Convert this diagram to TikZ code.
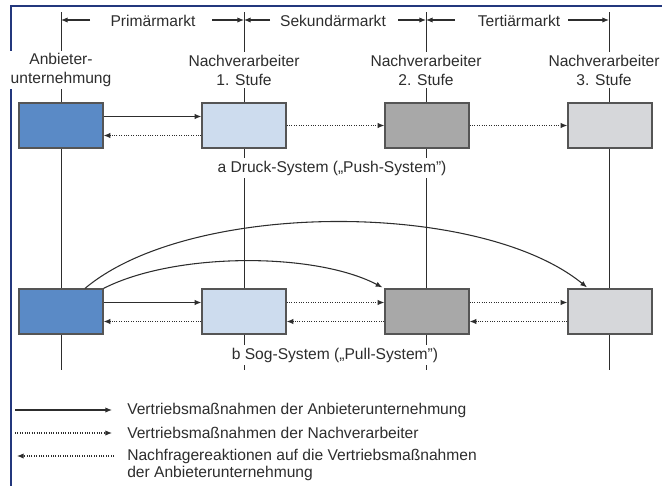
\documentclass[tikz,border=0pt]{standalone}
\usepackage{fontspec}
\setmainfont{Liberation Sans}
\usetikzlibrary{arrows.meta,calc}
\definecolor{frameblue}{RGB}{35,55,125}
\definecolor{cA}{RGB}{90,138,198}
\definecolor{cB}{RGB}{205,220,238}
\definecolor{cC}{RGB}{168,168,168}
\definecolor{cD}{RGB}{214,215,218}
\definecolor{edge}{RGB}{85,85,85}
\definecolor{ink}{RGB}{45,45,45}
\begin{document}
\begin{tikzpicture}[x=0.75pt,y=-0.75pt,
  font=\fontsize{11.7}{14.2}\selectfont, text=ink,
  vline/.style={draw=ink, line width=0.7pt},
  lbl/.style={fill=white, align=center, inner xsep=1pt, inner ysep=2pt},
  hdr/.style={inner sep=1pt},
  stagebox/.style={draw=edge, line width=0.9pt, minimum width=63pt, minimum height=33.75pt, inner sep=0pt},
  arrtip/.style={-{Latex[length=5pt,width=4pt]}},
  sol/.style={arrtip, draw=ink, line width=0.8pt},
  dotarr/.style={arrtip, draw=ink, line width=0.8pt, densely dotted},
  captext/.style={fill=white, inner sep=2pt},
  legtext/.style={anchor=west, inner sep=0pt, align=left, font=\fontsize{11.7}{12.75}\selectfont}]
\clip (0,0) rectangle (662,486);
% frame
\draw[frameblue, line width=1.6pt] (11,486) -- (11,6) -- (662,6);
% column lines
\foreach \n/\x in {1/61,2/244,3/426,4/609}{
  \coordinate (top\n) at (\x,12);
  \coordinate (bot\n) at (\x,370);
  \coordinate (hk\n) at (\x,20);
  \draw[vline] (top\n) -- (bot\n);
}
% header
\node[hdr] (h1) at (153,21) {Primärmarkt};
\node[hdr] (h2) at (333,21) {Sekundärmarkt};
\node[hdr] (h3) at (519,21) {Tertiärmarkt};
\coordinate (p1l) at (90,20);  \coordinate (p1r) at (212,20);
\coordinate (p2l) at (270,20); \coordinate (p2r) at (398,20);
\coordinate (p3l) at (455,20); \coordinate (p3r) at (568,20);
\draw[sol] (p1l) -- (hk1); \draw[sol] (p1r) -- (hk2);
\draw[sol] (p2l) -- (hk2); \draw[sol] (p2r) -- (hk3);
\draw[sol] (p3l) -- (hk3); \draw[sol] (p3r) -- (hk4);
% column labels
\node[lbl] (l1) at (61,70) {Anbieter-\\unternehmung};
\node[lbl] (l2) at (244,70) {Nachverarbeiter\\1. Stufe};
\node[lbl] (l3) at (426,70) {Nachverarbeiter\\2. Stufe};
\node[lbl] (l4) at (604,70) {Nachverarbeiter\\3. Stufe};
% boxes row a
\node[stagebox, fill=cA] (a1) at (61,125.5) {};
\node[stagebox, fill=cB] (a2) at (244,125.5) {};
\node[stagebox, fill=cC] (a3) at (427,125.5) {};
\node[stagebox, fill=cD] (a4) at (610,125.5) {};
% boxes row b
\node[stagebox, fill=cA] (b1) at (61,311.5) {};
\node[stagebox, fill=cB] (b2) at (244,311.5) {};
\node[stagebox, fill=cC] (b3) at (427,311.5) {};
\node[stagebox, fill=cD] (b4) at (610,311.5) {};
% row a arrows
\draw[sol] ($(a1.east)+(0,-9)$) -- ($(a2.west)+(0,-9)$);
\draw[dotarr] ($(a2.west)+(0,10)$) -- ($(a1.east)+(0,10)$);
\draw[dotarr] (a2.east) -- (a3.west);
\draw[dotarr] (a3.east) -- (a4.west);
% row b arrows
\draw[sol] ($(b1.east)+(0,-9)$) -- ($(b2.west)+(0,-9)$);
\draw[dotarr] ($(b2.east)+(0,-9)$) -- ($(b3.west)+(0,-9)$);
\draw[dotarr] ($(b3.east)+(0,-9)$) -- ($(b4.west)+(0,-9)$);
\draw[dotarr] ($(b2.west)+(0,10)$) -- ($(b1.east)+(0,10)$);
\draw[dotarr] ($(b3.west)+(0,10)$) -- ($(b2.east)+(0,10)$);
\draw[dotarr] ($(b4.west)+(0,10)$) -- ($(b3.east)+(0,10)$);
% curved arrows
\draw[sol] ($(b1.north)+(24,0)$) .. controls (190,200) and (480,200) .. ($(b4.north)+(-23,-1)$);
\draw[sol] (b1.north east) .. controls (175,252) and (315,252) .. ($(b3.north west)+(-2,-1)$);
% captions
\node[captext] (capa) at (332,168) {a Druck-System („Push-System")};
\node[captext] (capb) at (335,355) {b Sog-System („Pull-System")};
% legend
\coordinate (g1a) at (15,410);  \coordinate (g1b) at (112,410);
\coordinate (g2a) at (15,433);  \coordinate (g2b) at (112,433);
\coordinate (g3a) at (114,456); \coordinate (g3b) at (17,456);
\draw[sol] (g1a) -- (g1b);
\draw[dotarr] (g2a) -- (g2b);
\draw[dotarr] (g3a) -- (g3b);
\node[legtext] (t1) at (127,410) {Vertriebsmaßnahmen der Anbieterunternehmung};
\node[legtext] (t2) at (127,433) {Vertriebsmaßnahmen der Nachverarbeiter};
\node[legtext] (t3) at (127,464.5) {Nachfragereaktionen auf die Vertriebsmaßnahmen\\der Anbieterunternehmung};
\end{tikzpicture}
\end{document}
